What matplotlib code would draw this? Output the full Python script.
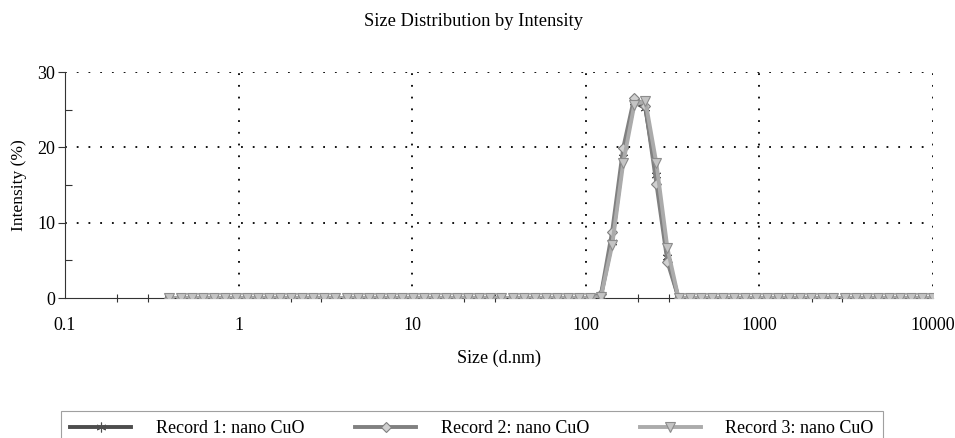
import matplotlib
matplotlib.use("Agg")
import matplotlib.pyplot as plt
from matplotlib.ticker import LogLocator, FixedLocator, NullFormatter

plt.rcParams['font.family'] = ['Liberation Serif', 'DejaVu Serif']

# Tamanos (d.nm) - bins del equipo
sizes = [0.4000, 0.4632, 0.5365, 0.6213, 0.7195, 0.8332, 0.9649,
         1.117, 1.294, 1.499, 1.736, 2.010, 2.328, 2.696, 3.122, 3.615,
         4.187, 4.849, 5.615, 6.503, 7.531, 8.721,
         10.10, 11.70, 13.54, 15.69, 18.17, 21.04, 24.36, 28.21, 32.67,
         37.84, 43.82, 50.75, 58.77, 68.06, 78.82, 91.28,
         105.7, 122.4, 141.8, 164.2, 190.1, 220.2, 255.0, 295.3, 342.0,
         396.1, 458.7, 531.2, 615.1, 712.4, 825.0, 955.4,
         1106, 1281, 1484, 1718, 1990, 2305, 2669, 3091, 3580, 4145,
         4801, 5560, 6439, 7456, 8635, 10000]

# Intensidad (%) por registro
record1 = [0.0] * 39 + [0.3, 7.5, 18.7, 26.0, 25.2, 16.3, 5.4] + [0.0] * 24
record2 = [0.0] * 39 + [0.5, 8.8, 19.9, 26.6, 25.5, 15.2, 4.8] + [0.0] * 24
record3 = [0.0] * 39 + [0.2, 7.0, 17.9, 25.6, 26.2, 17.9, 6.6] + [0.0] * 24

labels = ["Record 1: nano CuO", "Record 2: nano CuO", "Record 3: nano CuO"]

fig = plt.figure(figsize=(9.55, 4.38), dpi=100)
ax = fig.add_axes([0.068, 0.3196, 0.909, 0.516])

# Lineas con marcadores
ax.plot(sizes, record1, color="#4d4d4d", lw=2.8, marker=(6, 2, 0), ms=7,
        mec="#4d4d4d", mew=0.8, label=labels[0], zorder=3)
ax.plot(sizes, record2, color="#808080", lw=2.8, marker="D", ms=5.5,
        mfc="#d0d0d0", mec="#808080", mew=0.8, label=labels[1], zorder=4)
ax.plot(sizes, record3, color="#ababab", lw=2.8, marker="v", ms=7.5,
        mfc="#c4c4c4", mec="#8c8c8c", mew=0.8, label=labels[2], zorder=5)

ax.set_xscale("log")
ax.set_xlim(0.1, 10000)
ax.set_ylim(0, 30)

# Ejes
ax.spines["top"].set_visible(False)
ax.spines["right"].set_visible(False)
ax.spines["left"].set_color("#333333")
ax.spines["bottom"].set_color("#333333")

ax.xaxis.set_major_locator(FixedLocator([0.1, 1, 10, 100, 1000, 10000]))
ax.set_xticklabels(["0.1", "1", "10", "100", "1000", "10000"])
ax.xaxis.set_minor_locator(LogLocator(base=10, subs=(2, 3), numticks=20))
ax.xaxis.set_minor_formatter(NullFormatter())
ax.set_yticks([0, 10, 20, 30])
ax.yaxis.set_minor_locator(FixedLocator([5, 15, 25]))

ax.tick_params(axis="x", which="major", length=0, pad=14, labelsize=13)
ax.tick_params(axis="x", which="minor", direction="inout", length=6,
               width=0.8, color="#333333")
ax.tick_params(axis="y", which="major", direction="out", length=5,
               width=0.8, pad=2, labelsize=13, color="#333333")
ax.tick_params(axis="y", which="minor", direction="in", length=5,
               width=0.8, color="#333333")

# Rejilla punteada
for xv in [1, 10, 100, 1000, 10000]:
    ax.axvline(xv, color="black", lw=1.3, ls=(0, (1, 5.5)), zorder=1)
for yv in [10, 20, 30]:
    ax.axhline(yv, color="black", lw=1.3, ls=(0, (1, 5.5)), zorder=1)
for sp in ax.spines.values():
    sp.set_zorder(2)

fig.text(473 / 955, 1 - 21 / 438, "Size Distribution by Intensity",
         fontsize=13.3, ha="center", va="center")
ax.set_xlabel("Size (d.nm)", fontsize=13, labelpad=11)
ax.set_ylabel("Intensity (%)", fontsize=12.5, labelpad=7)

leg = fig.legend(loc="upper left", bbox_to_anchor=(61 / 955, 1 - 411 / 438),
                 ncol=3, fontsize=13, frameon=True, fancybox=False,
                 edgecolor="#888888", handlelength=3.4, handletextpad=1.35,
                 columnspacing=2.8, borderpad=0.5, borderaxespad=0,
                 markerscale=1)
leg.get_frame().set_linewidth(0.8)

fig.savefig("out.png", dpi=100)
